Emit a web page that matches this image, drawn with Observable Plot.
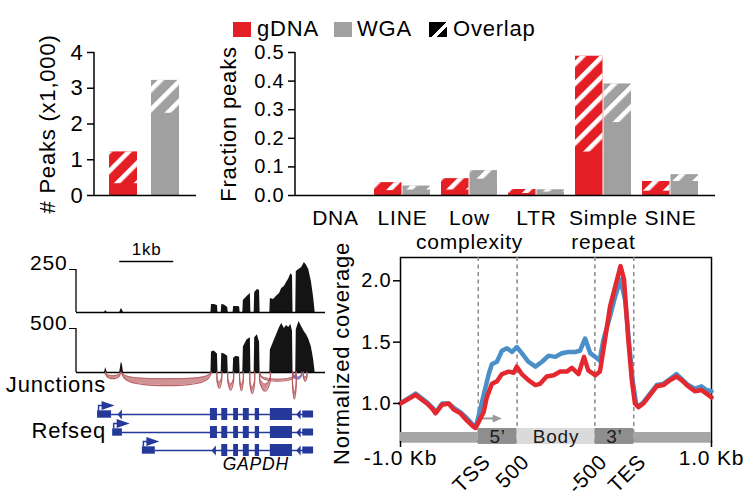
<!DOCTYPE html>
<html><head><meta charset="utf-8">
<script src="https://cdn.jsdelivr.net/npm/d3@7"></script>
<script src="https://cdn.jsdelivr.net/npm/@observablehq/plot@0.6"></script>
<style>
body{margin:0;background:#fff}
#root{position:relative;width:754px;height:497px;overflow:hidden;background:#fff;font-family:"Liberation Sans",Arial,Helvetica,sans-serif;color:#000;letter-spacing:0.8px}
#root svg{position:absolute;background:transparent !important;overflow:visible;max-width:none !important;letter-spacing:0.8px}
.lbl{position:absolute;line-height:1;white-space:nowrap}
.sw{position:absolute}
</style></head><body><div id="root"></div>
<script>
// ---------------- DATA ----------------
// Panel A: number of peaks (x1,000)
const peakSeries = ["gDNA", "WGA"];
const peakCounts = [1.22, 3.22];
const peakOverlap = [0.89, 0.92];           // hatched (shared) part

// Panel B: fraction of peaks per repeat class
const repeatClasses = ["DNA", "LINE", "Low complexity", "LTR", "Simple repeat", "SINE"];
const gdnaFraction = [0, 0.045, 0.059, 0.021, 0.487, 0.049];
const wgaFraction = [0, 0.033, 0.087, 0.020, 0.390, 0.073];
const gdnaOverlapFraction = [0, 0.028, 0.040, 0.014, 0.335, 0.034];
const wgaOverlapFraction = [0, 0.014, 0.030, 0.008, 0.135, 0.024];
const fractionTicks = [0, 0.1, 0.2, 0.3, 0.4, 0.5];
const countTicks = [0, 1, 2, 3, 4];

// Panel C: GAPDH locus coverage (kb from locus start)
const covPos = [0, 0.52, 0.54, 0.57, 0.80, 0.83, 0.85, 0.87, 2.49, 2.50, 2.55, 2.61, 2.62, 2.68, 2.69, 2.74, 2.80, 2.81, 2.90, 2.91, 2.96, 3.02, 3.03, 3.08, 3.09, 3.16, 3.22, 3.23, 3.29, 3.30, 3.35, 3.39, 3.40, 3.58, 3.59, 3.65, 3.70, 3.76, 3.80, 3.85, 3.89, 3.93, 3.97, 4.00, 4.01, 4.06, 4.07, 4.12, 4.17, 4.22, 4.26, 4.30, 4.35, 4.39, 4.42, 4.60];
const covTrack1 = [0, 0, 12, 0, 0, 23, 15, 0, 0, 46, 46, 40, 0, 0, 46, 44, 29, 0, 0, 35, 35, 33, 0, 0, 70, 93, 110, 0, 0, 116, 133, 128, 0, 0, 81, 75, 93, 110, 140, 151, 175, 195, 226, 215, 0, 0, 238, 250, 262, 290, 275, 250, 180, 90, 0, 0];
const covTrack2 = [0, 0, 58, 0, 0, 116, 90, 0, 0, 232, 244, 209, 0, 0, 220, 209, 186, 0, 0, 162, 186, 174, 0, 0, 290, 371, 394, 0, 0, 394, 429, 340, 0, 0, 255, 348, 420, 510, 557, 499, 534, 510, 545, 470, 0, 0, 487, 580, 520, 464, 430, 380, 290, 150, 0, 0];
const trackMax = [250, 500];
const scaleBarStart = 0.80, scaleBarLength = 1.0;

// splice junctions
const junctionStart = [0.54, 0.83, 2.60, 2.80, 3.02, 3.21, 3.39, 3.39, 4.00, 4.01, 4.20];
const junctionEnd   = [0.81, 2.50, 2.69, 2.91, 3.09, 3.30, 3.59, 4.07, 4.07, 4.17, 4.27];
const junctionDepth = [6.5, 13.5, 16, 18, 18.5, 21.5, 19, 9, 27, 7, 9];
const junctionBand  = [3, 7, 6, 6, 6, 6, 7, 2, 6, 2, 4];
const junctionStrand = ["+", "+", "+", "+", "+", "+", "+", "+", "+", "-", "+"];

// RefSeq transcripts
const transcripts = ["NM_002046", "NM_001256799", "NM_001289745"];
const txStart = [0.39, 0.67, 1.22];
const txUtr5End = [0.65, 0.85, 1.46];
const txUtr3Start = [4.19, 4.19, 4.19];
const txEnd = [4.39, 4.39, 4.39];
const exonTranscript = [0, 0, 0, 0, 0, 0, 1, 1, 1, 1, 1, 1, 2, 2, 2, 2, 2];
const exonStart = [2.48, 2.69, 2.91, 3.09, 3.31, 3.59, 2.48, 2.69, 2.91, 3.09, 3.31, 3.59, 2.69, 2.91, 3.09, 3.31, 3.59];
const exonEnd = [2.61, 2.80, 3.00, 3.20, 3.39, 4.00, 2.61, 2.80, 3.00, 3.20, 3.39, 4.00, 2.80, 3.00, 3.20, 3.39, 4.00];
const chevronTranscript = [0, 0, 1, 2, 2];
const chevronPos = [0.80, 4.11, 4.11, 2.54, 4.11];
const geneName = "GAPDH", geneLabelPos = 3.32;

// Panel D: metagene profile (0-2 upstream 1kb, 2-3 5', 3-5 body, 5-6 3', 6-8 downstream 1kb)
const redX = [0.00, 0.39, 0.68, 0.81, 0.90, 1.07, 1.24, 1.37, 1.54, 1.71, 1.88, 1.93, 2.01, 2.14, 2.22, 2.35, 2.48, 2.61, 2.78, 2.91, 2.99, 3.12, 3.29, 3.47, 3.59, 3.76, 3.94, 4.11, 4.28, 4.41, 4.58, 4.72, 4.83, 5.01, 5.13, 5.26, 5.39, 5.52, 5.66, 5.75, 5.86, 5.95, 6.03, 6.12, 6.25, 6.42, 6.59, 6.76, 6.93, 7.10, 7.23, 7.40, 7.57, 7.74, 7.87, 8.00];
const redY = [1.00, 1.07, 1.00, 0.96, 0.92, 0.99, 1.00, 0.95, 0.92, 0.86, 0.81, 0.80, 0.85, 0.93, 1.05, 1.16, 1.18, 1.24, 1.26, 1.25, 1.30, 1.24, 1.19, 1.15, 1.16, 1.22, 1.23, 1.26, 1.26, 1.29, 1.24, 1.38, 1.27, 1.23, 1.26, 1.52, 1.79, 1.95, 2.12, 2.01, 1.52, 1.19, 1.00, 0.97, 1.00, 1.07, 1.14, 1.15, 1.19, 1.22, 1.19, 1.14, 1.10, 1.11, 1.08, 1.05];
const blueX = [0.00, 0.39, 0.68, 0.81, 0.92, 1.07, 1.24, 1.39, 1.54, 1.71, 1.88, 1.94, 2.01, 2.14, 2.27, 2.35, 2.48, 2.61, 2.74, 2.87, 2.99, 3.12, 3.29, 3.47, 3.64, 3.81, 3.98, 4.15, 4.32, 4.49, 4.62, 4.75, 4.88, 5.01, 5.12, 5.22, 5.39, 5.52, 5.66, 5.78, 5.89, 5.97, 6.06, 6.14, 6.25, 6.42, 6.59, 6.76, 6.93, 7.10, 7.23, 7.40, 7.57, 7.74, 7.87, 8.00];
const blueY = [1.00, 1.08, 1.01, 0.97, 0.93, 1.00, 1.00, 0.96, 0.93, 0.88, 0.82, 0.81, 0.90, 1.07, 1.24, 1.32, 1.34, 1.43, 1.45, 1.42, 1.46, 1.41, 1.34, 1.30, 1.34, 1.39, 1.38, 1.41, 1.42, 1.42, 1.43, 1.53, 1.41, 1.38, 1.35, 1.52, 1.71, 1.87, 2.01, 1.84, 1.46, 1.19, 1.00, 0.98, 1.01, 1.08, 1.15, 1.16, 1.20, 1.24, 1.20, 1.15, 1.12, 1.14, 1.11, 1.10];
const regionStart = [0, 2, 3, 5, 6];
const regionEnd = [2, 3, 5, 6, 8];
const regionLabel = ["", "5\u2019", "Body", "3\u2019", ""];
const regionKind = ["flank", "end", "body", "end", "flank"];
const metaTickPos = [2, 3, 5, 6];
const metaTickLabel = ["TSS", "500", "-500", "TES"];
const metaEndPos = [0, 8];
const metaEndLabel = ["-1.0 Kb", "1.0 Kb"];
const covTicks = [1.0, 1.5, 2.0];

// ---------------- STYLE / HELPERS ----------------
const RED = "#e31e24", GRAY = "#a0a0a0", BLUE_TX = "#25399a";
const LINE_RED = "#e4282f", LINE_BLUE = "#4b8fc8";
const FONT = '"Liberation Sans", Arial, Helvetica, sans-serif';
const FS = 22;      // titles, category labels, legend
const FT = 20;      // y tick labels
const FX = 21;      // metagene x labels, track scales
const SVGNS = "http://www.w3.org/2000/svg";
const root = document.getElementById("root");
const baseStyle = {fontFamily: FONT, background: "transparent", overflow: "visible"};

function place(svg, left, top) {
  svg.style.position = "absolute";
  svg.style.left = left + "px";
  svg.style.top = top + "px";
  svg.style.background = "transparent";
  svg.style.maxWidth = "none";
  svg.style.letterSpacing = "0.8px";
  root.appendChild(svg);
}
function leftLine(sw = 1.5) {
  return (index, scales, values, dim) => {
    const l = document.createElementNS(SVGNS, "line");
    l.setAttribute("x1", dim.marginLeft); l.setAttribute("x2", dim.marginLeft);
    l.setAttribute("y1", dim.marginTop); l.setAttribute("y2", dim.height - dim.marginBottom);
    l.setAttribute("stroke", "black"); l.setAttribute("stroke-width", sw);
    return l;
  };
}
function hatchDefs(id) {
  return () => {
    const g = document.createElementNS(SVGNS, "g");
    g.innerHTML = `<defs><pattern id="${id}" patternUnits="userSpaceOnUse" width="14" height="14" patternTransform="rotate(45)"><rect x="0" y="0" width="4.6" height="14" fill="#fff"/></pattern></defs>`;
    return g;
  };
}
function label(text, x, yCenter, {anchor = "start", size = FS} = {}) {
  const d = document.createElement("div");
  d.className = "lbl";
  d.textContent = text;
  d.style.fontSize = size + "px";
  d.style.top = (yCenter - 0.49 * size) + "px";
  if (anchor === "end") d.style.right = (754 - x) + "px";
  else d.style.left = x + "px";
  root.appendChild(d);
}
function swatch(x, y, w, h, bg) {
  const d = document.createElement("div");
  d.className = "sw";
  Object.assign(d.style, {left: x + "px", top: y + "px", width: w + "px", height: h + "px", background: bg});
  root.appendChild(d);
}

// ---------------- LEGEND ----------------
swatch(233, 21.5, 18, 15, RED);
label("gDNA", 257, 28.8);
swatch(334, 21.5, 18, 15, GRAY);
label("WGA", 357, 28.8);
swatch(428.5, 21.5, 18, 15, "linear-gradient(135deg, #000 0 52%, #fff 52% 68%, #000 68% 100%)");
label("Overlap", 453, 28.8);

// ---------------- PANEL A ----------------
const peakRows = peakSeries.map((s, i) => ({s, v: peakCounts[i], o: peakOverlap[i]}));
const panelA = Plot.plot({
  width: 200, height: 240, marginLeft: 94, marginRight: 4, marginTop: 52, marginBottom: 45,
  style: baseStyle,
  x: {domain: peakSeries, range: [109, 179], paddingInner: 0.34, paddingOuter: 0, axis: null},
  y: {domain: [0, 4]},
  color: {domain: peakSeries, range: [RED, GRAY]},
  marks: [
    hatchDefs("hatchA"),
    Plot.barY(peakRows, {x: "s", y: "v", fill: "s"}),
    Plot.barY(peakRows, {x: "s", y1: d => d.v - d.o, y2: "v", fill: "url(#hatchA)"}),
    Plot.ruleY([0], {strokeWidth: 1.5}),
    leftLine(),
    Plot.axisY({ticks: countTicks, tickFormat: "d", tickSize: 7, tickPadding: 4, fontSize: FS, label: null, strokeWidth: 1.5}),
    Plot.text(["# Peaks (x1,000)"], {frameAnchor: "left", dx: -47, rotate: -90, textAnchor: "middle", fontSize: FS})
  ]
});
place(panelA, 0, 0);

// ---------------- PANEL B ----------------
const repeatRows = repeatClasses.map((c, i) => ({c, g: gdnaFraction[i], w: wgaFraction[i], go: gdnaOverlapFraction[i], wo: wgaOverlapFraction[i]}));
const half = 28.5;
const panelB = Plot.plot({
  width: 520, height: 245, marginLeft: 95, marginRight: 5, marginTop: 52, marginBottom: 50,
  style: baseStyle,
  x: {domain: repeatClasses, range: [99.2, 505.8], paddingInner: 0.158, paddingOuter: 0.079},
  y: {domain: [0, 0.5]},
  marks: [
    hatchDefs("hatchB"),
    Plot.barY(repeatRows, {x: "c", y: "g", fill: RED, insetRight: half}),
    Plot.barY(repeatRows, {x: "c", y: "w", fill: GRAY, insetLeft: half}),
    Plot.barY(repeatRows.filter(d => d.go > 0), {x: "c", y1: d => d.g - d.go, y2: "g", fill: "url(#hatchB)", insetRight: half}),
    Plot.barY(repeatRows.filter(d => d.wo > 0), {x: "c", y1: d => d.w - d.wo, y2: "w", fill: "url(#hatchB)", insetLeft: half}),
    Plot.ruleY([0], {strokeWidth: 1.5}),
    leftLine(),
    Plot.axisY({ticks: fractionTicks, tickFormat: ".1f", tickSize: 7, tickPadding: 4, fontSize: FT, label: null, strokeWidth: 1.5}),
    Plot.axisX({tickSize: 0, tickPadding: 13, fontSize: 21, label: null, lineHeight: 1.12, tickFormat: d => d.replace(" ", "\n")}),
    Plot.text(["Fraction peaks"], {frameAnchor: "left", dx: -67, rotate: -90, textAnchor: "middle", fontSize: FS})
  ]
});
place(panelB, 200, 0);

// ---------------- PANEL C ----------------
const xLocus = {domain: [0, 4.6], range: [76, 324.4], axis: null};
const covRows = covPos.map((p, i) => ({p, a: covTrack1[i], b: covTrack2[i]}));

const track1 = Plot.plot({
  width: 335, height: 75, marginLeft: 76, marginRight: 10, marginTop: 29, marginBottom: 3,
  style: baseStyle, x: xLocus, y: {domain: [0, trackMax[0]]},
  marks: [
    Plot.areaY(covRows, {x: "p", y: "a", fill: "#141414"}),
    Plot.ruleY([0], {strokeWidth: 1.5}),
    leftLine(1.3),
    Plot.axisY({ticks: [trackMax[0]], tickSize: 7, tickFormat: () => "", label: null}),
    Plot.text([trackMax[0]], {y: d => d, frameAnchor: "left", dx: -9, dy: -6, textAnchor: "end", fontSize: FX}),
    Plot.ruleY([trackMax[0]], {x1: scaleBarStart, x2: scaleBarStart + scaleBarLength, dy: -8, strokeWidth: 1.5}),
    Plot.text(["1kb"], {x: scaleBarStart + scaleBarLength / 2, y: () => trackMax[0], dy: -20, fontSize: 17})
  ]
});
place(track1, 0, 240);

const track2 = Plot.plot({
  width: 335, height: 60, marginLeft: 76, marginRight: 10, marginTop: 13, marginBottom: 3,
  style: baseStyle, x: xLocus, y: {domain: [0, trackMax[1]]},
  marks: [
    Plot.areaY(covRows, {x: "p", y: "b", fill: "#141414"}),
    Plot.ruleY([0], {strokeWidth: 1.5}),
    leftLine(1.3),
    Plot.axisY({ticks: [trackMax[1]], tickSize: 7, tickFormat: () => "", label: null}),
    Plot.text([trackMax[1]], {y: d => d, frameAnchor: "left", dx: -9, dy: -5, textAnchor: "end", fontSize: FX})
  ]
});
place(track2, 0, 315);

// junction arcs: U-shaped loops hanging below the coverage baseline
const juncShape = [[0, 0], [0.06, 0.6], [0.5, 1], [0.94, 0.6], [1, 0]];
const juncPts = [];
junctionStart.forEach((s, i) => {
  const e = junctionEnd[i], d = junctionDepth[i], t = junctionBand[i];
  juncShape.forEach(([f, k]) => juncPts.push({id: i, x: s + f * (e - s), outer: k * d, inner: k * Math.max(d - t, 0), strand: junctionStrand[i]}));
});
const junctions = Plot.plot({
  width: 335, height: 34, marginLeft: 76, marginRight: 10, marginTop: 1.7, marginBottom: 2.3,
  style: baseStyle, x: xLocus, y: {domain: [0, 30], reverse: true, axis: null},
  color: {domain: ["+", "-"], range: ["#b5585c", "#6a5cb4"]},
  marks: [
    Plot.areaY(juncPts, {x: "x", y1: "inner", y2: "outer", z: "id", fill: "strand", fillOpacity: 0.65, curve: "catmull-rom"}),
    Plot.line(juncPts, {x: "x", y: "outer", z: "id", stroke: "strand", strokeWidth: 1.2, curve: "catmull-rom", strokeOpacity: 0.95}),
    Plot.line(juncPts, {x: "x", y: "inner", z: "id", stroke: "strand", strokeWidth: 1, curve: "catmull-rom", strokeOpacity: 0.8})
  ]
});
place(junctions, 0, 370);

// RefSeq gene models
const txRows = transcripts.map((t, i) => ({t, start: txStart[i], u5: txUtr5End[i], u3: txUtr3Start[i], end: txEnd[i]}));
const exonRows = exonTranscript.map((ti, i) => ({t: transcripts[ti], start: exonStart[i], end: exonEnd[i]}));
const chevronRows = chevronTranscript.map((ti, i) => ({t: transcripts[ti], pos: chevronPos[i]}));
const flagSymbol = {draw(c) {
  c.moveTo(0.25, -4); c.lineTo(0.25, -9.75); c.lineTo(4, -9.75); c.lineTo(4, -13.5);
  c.lineTo(17, -9); c.lineTo(4, -4.5); c.lineTo(4, -8.25); c.lineTo(1.75, -8.25); c.lineTo(1.75, -4); c.closePath();
}};
const chevronSymbol = {draw(c) { c.moveTo(2.2, -5); c.lineTo(-2.2, 0); c.lineTo(2.2, 5); c.closePath(); }};
const refseq = Plot.plot({
  width: 335, height: 85, marginLeft: 76, marginRight: 10, marginTop: 0, marginBottom: 0,
  style: baseStyle, x: xLocus,
  y: {type: "band", domain: transcripts, range: [6.3, 62.55], padding: 0, axis: null},
  marks: [
    Plot.ruleY(txRows, {y: "t", x1: "u5", x2: "end", stroke: BLUE_TX, strokeWidth: 1.6}),
    Plot.barX(txRows, {y: "t", x1: "start", x2: "u5", fill: BLUE_TX, insetTop: 5.3, insetBottom: 5.3}),
    Plot.barX(txRows, {y: "t", x1: "u3", x2: "end", fill: BLUE_TX, insetTop: 5.5, insetBottom: 5.5}),
    Plot.barX(exonRows, {y: "t", x1: "start", x2: "end", fill: BLUE_TX, insetTop: 3, insetBottom: 3}),
    Plot.dot(chevronRows, {x: "pos", y: "t", symbol: chevronSymbol, fill: BLUE_TX, stroke: "none"}),
    Plot.dot(txRows, {x: "start", y: "t", symbol: flagSymbol, fill: BLUE_TX, stroke: "none"}),
    Plot.text([{name: geneName, pos: geneLabelPos}], {x: "pos", text: "name", frameAnchor: "bottom", dy: -14, fontSize: 17.5, fontStyle: "italic"})
  ]
});
place(refseq, 0, 398);

label("Junctions", 106, 384.5, {anchor: "end"});
label("Refseq", 106, 430.5, {anchor: "end"});

// ---------------- PANEL D ----------------
const redRows = redX.map((x, i) => ({x, y: redY[i]}));
const blueRows = blueX.map((x, i) => ({x, y: blueY[i]}));
const regionRows = regionStart.map((s, i) => ({s, e: regionEnd[i], label: regionLabel[i], kind: regionKind[i]}));
const arrowHead = {draw(c) { c.moveTo(-5, -4); c.lineTo(4, 0); c.lineTo(-5, 4); c.closePath(); }};
const tssArrow = {from: 2.03, to: 2.5, y: 0.878};
const panelD = Plot.plot({
  width: 424, height: 257, marginLeft: 70, marginRight: 43, marginTop: 17, marginBottom: 56,
  style: baseStyle,
  x: {domain: [0, 8]},
  y: {domain: [0.69, 2.19]},
  marks: [
    Plot.frame({strokeWidth: 1.5}),
    Plot.ruleX(metaTickPos, {stroke: "#8a8a8a", strokeWidth: 1.5, strokeDasharray: "4,3.5"}),
    Plot.rect(regionRows.filter(d => d.kind === "flank"), {x1: "s", x2: "e", y1: 0.682, y2: 0.763, fill: "#a5a5a5"}),
    Plot.rect(regionRows.filter(d => d.kind === "end"), {x1: "s", x2: "e", y1: 0.666, y2: 0.796, fill: "#8e8e8e"}),
    Plot.rect(regionRows.filter(d => d.kind === "body"), {x1: "s", x2: "e", y1: 0.666, y2: 0.796, fill: "#dadada"}),
    Plot.text(regionRows.filter(d => d.label), {x: d => (d.s + d.e) / 2, y: () => 0.731, text: "label", fontSize: 19, fill: "#1a1a1a"}),
    Plot.ruleY([tssArrow], {y: "y", x1: "from", x2: "to", stroke: "#9a9a9a", strokeWidth: 2}),
    Plot.dot([tssArrow], {x: "to", y: "y", symbol: arrowHead, fill: "#9a9a9a", stroke: "none"}),
    Plot.line(blueRows, {x: "x", y: "y", stroke: LINE_BLUE, strokeWidth: 4.5, strokeLinejoin: "round"}),
    Plot.line(redRows, {x: "x", y: "y", stroke: LINE_RED, strokeWidth: 4.5, strokeLinejoin: "round"}),
    Plot.axisY({ticks: covTicks, tickFormat: ".1f", tickSize: 7, tickPadding: 2, fontSize: FT, label: null, strokeWidth: 1.5}),
    Plot.axisX({ticks: metaEndPos, tickFormat: d => metaEndLabel[metaEndPos.indexOf(d)], tickSize: 6, tickPadding: 3, fontSize: FX, label: null, strokeWidth: 1.5}),
    Plot.text(metaTickPos.map((p, i) => ({p, t: metaTickLabel[i]})), {x: "p", text: "t", frameAnchor: "bottom", dx: 3, dy: 11, rotate: -45, textAnchor: "end", lineAnchor: "top", fontSize: FX}),
    Plot.text(["Normalized coverage"], {frameAnchor: "left", dx: -59, dy: 4, rotate: -90, textAnchor: "middle", fontSize: FS})
  ]
});
place(panelD, 330, 240);
</script></body></html>
